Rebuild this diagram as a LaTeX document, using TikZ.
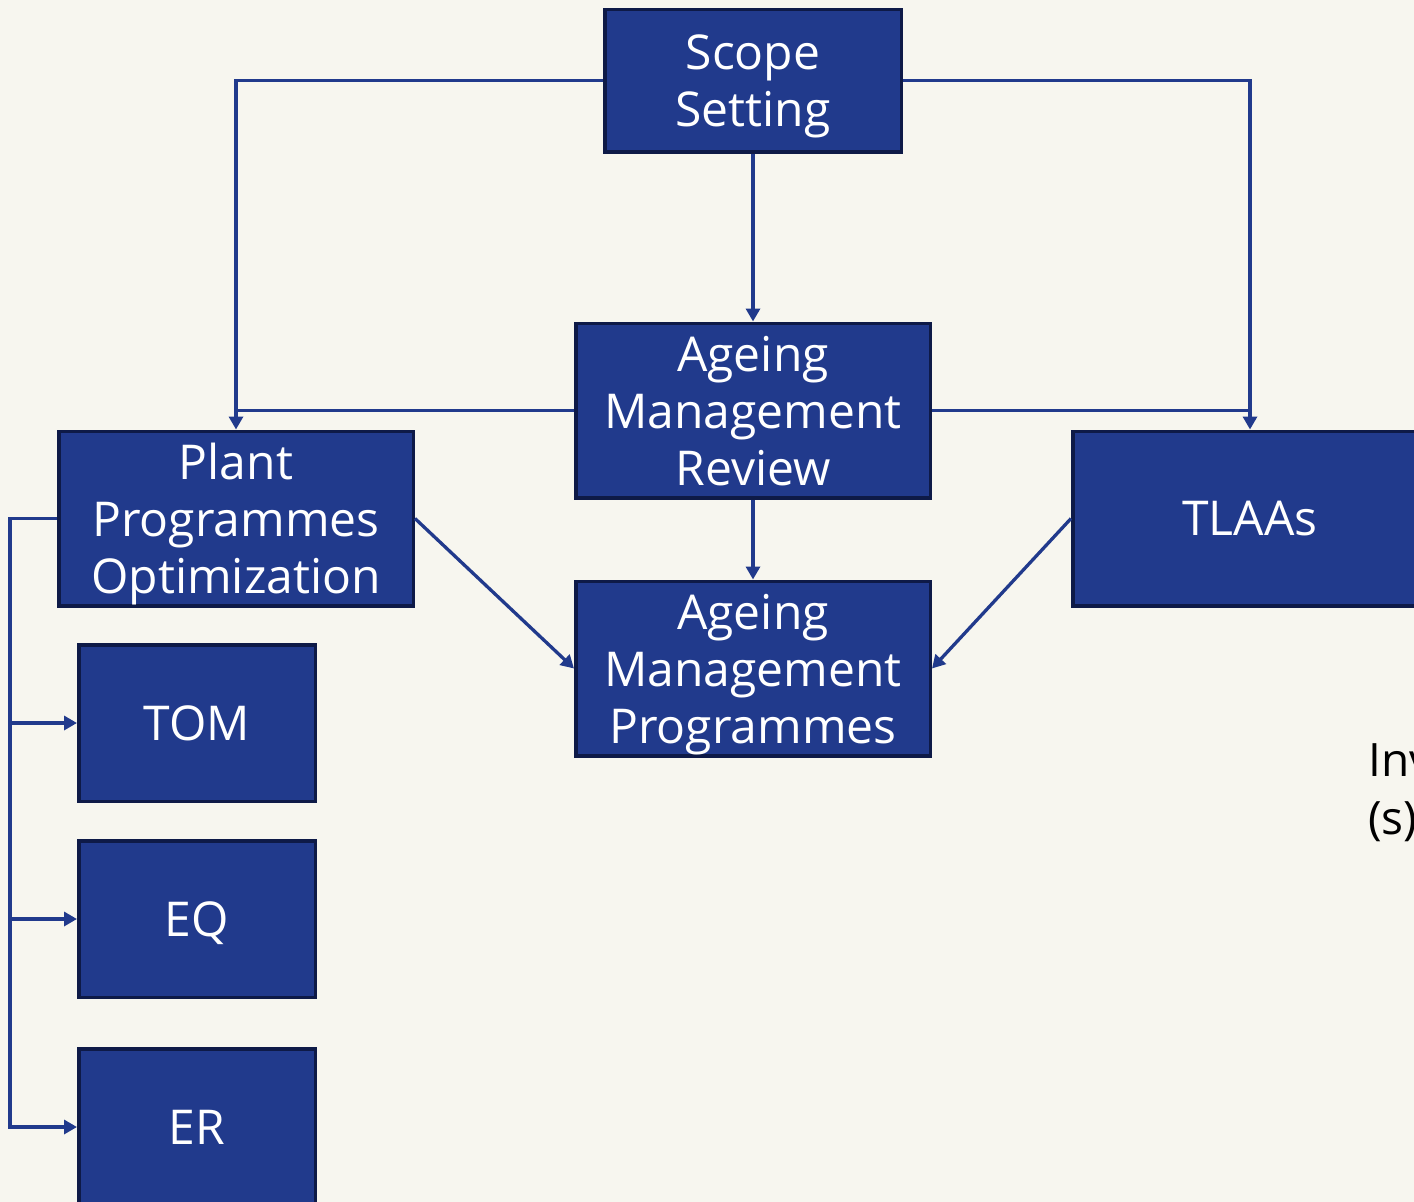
\documentclass[tikz,border=0pt]{standalone}
\usepackage{fontspec}
\setmainfont{Open Sans}
\usetikzlibrary{arrows.meta}
\definecolor{paper}{HTML}{F7F6EF}
\definecolor{boxfill}{HTML}{213A8C}
\definecolor{boxedge}{HTML}{0E1A47}
\definecolor{link}{HTML}{213A8C}
\begin{document}
\begin{tikzpicture}[x=1pt,y=-1pt,
  blk/.style={draw=boxedge, line width=3.5pt, fill=boxfill, text=white,
    inner sep=0pt, align=center, text depth=0pt,
    font=\fontsize{48}{57}\selectfont},
  wide/.style={blk, minimum width=354.5pt, minimum height=174.5pt},
  small/.style={blk, minimum width=236.5pt, minimum height=156.5pt},
  conn/.style={draw=link, line width=3.3pt},
  tip/.style={-{Triangle[length=13pt,width=14pt]}}]
  % page and background
  \fill[paper] (0,0) rectangle (1414,1202);
  \useasboundingbox (0,0) rectangle (1414,1202);

  % blocks
  \node[blk, minimum width=296.5pt, minimum height=142.5pt] (scope) at (753,80.5) {Scope\\Setting};
  \node[wide] (amr)   at (753,410.5)  {Ageing\\Management\\Review};
  \node[wide] (plant) at (236,518.5)  {Plant\\Programmes\\Optimization};
  \node[wide] (tlaas) at (1250,518.5) {TLAAs};
  \node[wide] (amp)   at (753,668.5)  {Ageing\\Management\\Programmes};
  \node[small] (tom) at (197,723)  {TOM};
  \node[small] (eq)  at (197,919)  {EQ};
  \node[small] (er)  at (197,1127) {ER};

  % side text
  \node[anchor=base west, inner sep=0pt, font=\fontsize{46}{57}\selectfont] (inv) at (1368,776) {Inv};
  \node[anchor=base west, inner sep=0pt, font=\fontsize{46}{57}\selectfont] (invs) at (1368,834) {(s)};

  % connectors from scope setting
  \draw[conn,tip] (scope.west) -| (plant.north);
  \draw[conn,tip] (scope.east) -| (tlaas.north);
  \draw[conn,tip] (scope.south) -- (amr.north);

  % review feeds both sides
  \draw[conn] (amr.west) -- (amr.west -| plant.north);
  \draw[conn] (amr.east) -- (amr.east -| tlaas.north);
  \draw[conn,tip] (amr.south) -- (amp.north);

  % into ageing management programmes
  \draw[conn,tip] (plant.east) -- (amp.west);
  \draw[conn,tip] (tlaas.west) -- (amp.east);

  % plant programmes bus
  \coordinate (bus) at (10,518.5);
  \draw[conn,tip] (plant.west) -- (bus) |- (er.west);
  \draw[conn,tip] (bus |- tom.west) -- (tom.west);
  \draw[conn,tip] (bus |- eq.west) -- (eq.west);
\end{tikzpicture}
\end{document}
